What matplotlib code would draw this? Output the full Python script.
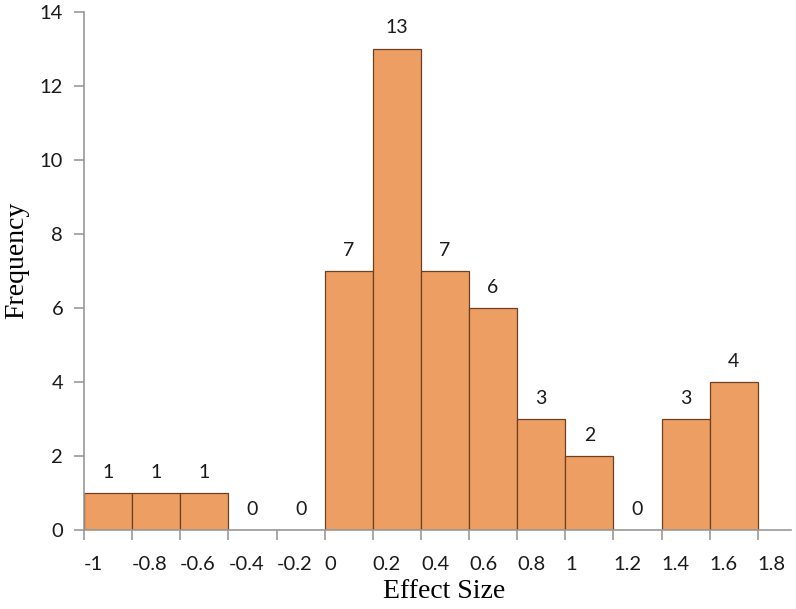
import matplotlib.pyplot as plt

# histogram of effect sizes, bins of width 0.2
bin_edges = [-1, -0.8, -0.6, -0.4, -0.2, 0, 0.2, 0.4, 0.6, 0.8, 1, 1.2, 1.4, 1.6, 1.8]
counts = [1, 1, 1, 0, 0, 7, 13, 7, 6, 3, 2, 0, 3, 4]
tick_labels = ['-1', '-0.8', '-0.6', '-0.4', '-0.2', '0', '0.2', '0.4', '0.6', '0.8',
               '1', '1.2', '1.4', '1.6', '1.8']

fig = plt.figure(figsize=(7.96, 6.09), dpi=100)
ax = fig.add_axes([0.1055, 0.1297, 0.888, 0.8506])

lefts = bin_edges[:-1]
width = 0.2
bars = ax.bar(lefts, counts, width=width, align='edge', color='#EC9E63',
              edgecolor='#6E4020', linewidth=0.9)

for x, c in zip(lefts, counts):
    ax.annotate(str(c), (x + width / 2, c), xytext=(0, 9), textcoords='offset points',
                ha='center', va='bottom', fontsize=14, family='Lato', color='#1a1a1a')

ax.set_xlim(-1, 1.937)
ax.set_ylim(0, 14)
ax.set_yticks(range(0, 15, 2))
ax.set_xticks(bin_edges)
ax.set_xticklabels(tick_labels, ha='left')
for lbl in ax.get_xticklabels() + ax.get_yticklabels():
    lbl.set_family('Lato')
    lbl.set_fontsize(14.5)
    lbl.set_color('#1a1a1a')

ax.spines['top'].set_visible(False)
ax.spines['right'].set_visible(False)
for s in ['left', 'bottom']:
    ax.spines[s].set_color('#999999')
    ax.spines[s].set_linewidth(1.2)
ax.tick_params(axis='both', colors='#999999', length=7, width=1.2)
ax.tick_params(axis='x', pad=12, labelcolor='#1a1a1a')
ax.tick_params(axis='y', pad=8, labelcolor='#1a1a1a')

ax.set_xlabel('Effect Size', family='Liberation Serif', fontsize=20)
ax.set_ylabel('Frequency', family='Liberation Serif', fontsize=20)
ax.xaxis.set_label_coords(0.509, -0.095)
ax.yaxis.set_label_coords(-0.077, 0.521)

plt.savefig('out.png')
